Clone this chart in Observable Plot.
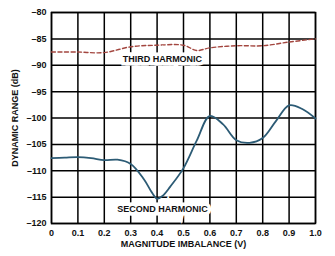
<!DOCTYPE html>
<html><head><meta charset="utf-8">
<script src="https://cdn.jsdelivr.net/npm/d3@7"></script>
<script src="https://cdn.jsdelivr.net/npm/@observablehq/plot@0.6"></script>
<style>
html,body{margin:0;padding:0;background:#fff;}
svg{display:block;}
</style></head><body>
<div id="chart"></div>
<script>
const xTicks = [0,0.1,0.2,0.3,0.4,0.5,0.6,0.7,0.8,0.9,1.0];
const yTicks = [-80,-85,-90,-95,-100,-105,-110,-115,-120];

const secondX = [0,0.05,0.1,0.15,0.2,0.25,0.3,0.35,0.38,0.4,0.42,0.45,0.5,0.55,0.6,0.65,0.7,0.75,0.8,0.85,0.9,0.95,1.0];
const secondY = [-107.6,-107.5,-107.4,-107.6,-108.0,-107.9,-108.7,-111.6,-114.1,-115.3,-114.8,-113.0,-109.5,-104.3,-99.6,-101.2,-104.2,-104.7,-103.8,-100.6,-97.6,-98.3,-100.1];

const thirdX = [0,0.1,0.2,0.3,0.4,0.5,0.55,0.6,0.7,0.8,0.9,1.0];
const thirdY = [-87.5,-87.5,-87.6,-86.5,-86.2,-86.2,-87.2,-86.7,-86.3,-86.3,-85.6,-85.0];

const second = secondX.map((x,i)=>({x, y: secondY[i]}));
const third = thirdX.map((x,i)=>({x, y: thirdY[i]}));

const labels = [
  {x: 0.42, y: -88.8, text: "THIRD HARMONIC"},
  {x: 0.42, y: -117.2, text: "SECOND HARMONIC"}
];

const chart = Plot.plot({
  width: 335, height: 256,
  marginLeft: 51, marginRight: 20, marginTop: 12, marginBottom: 33,
  style: {fontFamily: "Liberation Sans, Arial, sans-serif", fontSize: "9px", fontWeight: "bold", color: "#111", background: "#fff"},
  x: {domain: [0,1], ticks: xTicks, tickFormat: d => d === 0 ? "0" : (d === 1 ? "1.0" : d.toFixed(1)), tickSize: 0, tickPadding: 6, label: "MAGNITUDE IMBALANCE (V)", labelAnchor: "center", labelOffset: 23, labelArrow: "none"},
  y: {domain: [-120,-80], ticks: yTicks, tickFormat: d => "\u2013" + Math.abs(d), tickSize: 0, tickPadding: 5, label: "DYNAMIC RANGE (dB)", labelAnchor: "center", labelOffset: 40, labelArrow: "none"},
  marks: [
    Plot.gridX(xTicks, {stroke: "#000", strokeOpacity: 1, strokeWidth: 1.5}),
    Plot.gridY(yTicks, {stroke: "#000", strokeOpacity: 1, strokeWidth: 1.5}),
    Plot.frame({stroke: "#000", strokeWidth: 1.5}),
    Plot.line(third, {x: "x", y: "y", curve: "catmull-rom", stroke: "#a3463f", strokeWidth: 1.4, strokeDasharray: "4,2.5"}),
    Plot.line(second, {x: "x", y: "y", curve: "catmull-rom", stroke: "#2c5b75", strokeWidth: 1.8}),
    Plot.text(labels, {x: "x", y: "y", text: "text", fill: "#111", stroke: "#fff", strokeWidth: 7, strokeLinejoin: "miter", fontSize: 9, fontWeight: "bold"})
  ]
});
document.getElementById("chart").appendChild(chart);
</script>
</body></html>
